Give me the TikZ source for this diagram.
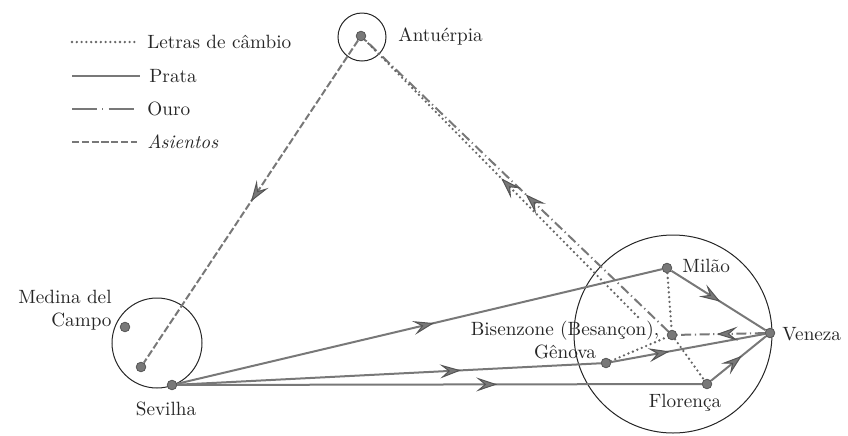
\documentclass[tikz,border=0pt]{standalone}
\usetikzlibrary{arrows.meta,decorations.markings}
\definecolor{lg}{RGB}{120,120,120}
\definecolor{dg}{RGB}{85,85,85}
\begin{document}
\begin{tikzpicture}[x=0.5pt,y=-0.5pt,
  every node/.style={font=\rmfamily\fontsize{9.6}{11.8}\selectfont, inner sep=1pt},
  city/.style={circle, fill=lg, draw=dg, line width=0.4pt, minimum size=4.8pt, inner sep=0pt},
  ring/.style={circle, draw=black!85, line width=0.5pt, inner sep=0pt, outer sep=0pt},
  flow/.style={draw=lg, line width=1pt},
  prata/.style={flow},
  letras/.style={flow, draw=dg!90, line width=1.3pt, line cap=round, dash pattern=on 0pt off 2.4pt},
  ouro/.style={flow, dash pattern=on 5pt off 1.8pt on 0.6pt off 1.8pt},
  ourolegend/.style={flow, dash pattern=on 12.5pt off 2.6pt on 0.6pt off 2.6pt},
  asientos/.style={flow, dash pattern=on 3.6pt off 1.3pt},
  midarrow/.style={postaction={decorate}, decoration={markings, mark=at position #1 with {\arrow[solid, line width=0.5pt]{Stealth[length=10.5pt,width=7pt,inset=4.2pt,color=dg,fill=lg]}}}},
  lab/.style={text=black!85}
]
\useasboundingbox (0,0) rectangle (848,435);

% circles
\node[ring, minimum size=24pt] (antring) at (362,37) {};
\node[ring, minimum size=45pt] (sevring) at (157,343) {};
\node[ring, minimum size=99pt] (itring) at (673,334) {};

% places
\node[city] (ant) at (361,36) {};
\node[city] (med) at (125,327) {};
\node[city] (asi) at (141,367) {};
\node[city] (sev) at (172,385) {};
\node[city] (mil) at (667,268) {};
\node[city] (ven) at (770,333) {};
\node[city] (bis) at (672,335) {};
\node[city] (gen) at (606,363) {};
\node[city] (flo) at (707,384) {};
\coordinate (bx) at (638,317);

% labels
\node[lab, anchor=west] (antl) at (396,36) {Antuérpia};
\node[lab, align=right, anchor=east] (medl) at (114,310) {Medina del\\Campo};
\node[lab] (sevl) at (166,409) {Sevilha};
\node[lab, anchor=west] (mill) at (680,266) {Milão};
\node[lab, anchor=west] (venl) at (780,334) {Veneza};
\node[lab, align=center] (bisl) at (565,340) {Bisenzone (Besançon),\\Gênova};
\node[lab] (flol) at (685,403) {Florença};

% asientos
\draw[asientos, midarrow=0.5] (ant) -- (asi);

% prata
\draw[prata, midarrow=0.53] (sev) -- (mil);
\draw[prata, midarrow=0.67] (sev) -- (gen);
\draw[prata, midarrow=0.61] (sev) -- (flo);
\draw[prata, midarrow=0.52] (mil) -- (ven);
\draw[prata, midarrow=0.38] (gen) -- (ven);
\draw[prata, midarrow=0.56] (flo) -- (ven);

% ouro
\draw[ouro, midarrow=0.55] (ven) -- (bis);
\draw[ouro, midarrow=0.47] (bis) -- (ant);

% letras de cambio
\draw[letras, midarrow=0.5] (bx) -- (ant);
\draw[letras] (mil) -- (bis);
\draw[letras] (gen) -- (bis);
\draw[letras] (bis) -- (flo);

% legend
\coordinate (k1a) at (72,42);  \coordinate (k1b) at (137,42);
\coordinate (k2a) at (72,76);  \coordinate (k2b) at (140,76);
\coordinate (k3a) at (72,109); \coordinate (k3b) at (137,109);
\coordinate (k4a) at (72,142); \coordinate (k4b) at (137,142);
\draw[letras] (k1a) -- (k1b);
\draw[prata] (k2a) -- (k2b);
\draw[ourolegend] (k3a) -- (k3b);
\draw[asientos] (k4a) -- (k4b);
\node[lab, anchor=west] (t1) at (145,42) {Letras de câmbio};
\node[lab, anchor=west] (t2) at (147,76) {Prata};
\node[lab, anchor=west] (t3) at (145,109) {Ouro};
\node[lab, anchor=west] (t4) at (145,142) {\itshape Asientos};
\end{tikzpicture}
\end{document}
